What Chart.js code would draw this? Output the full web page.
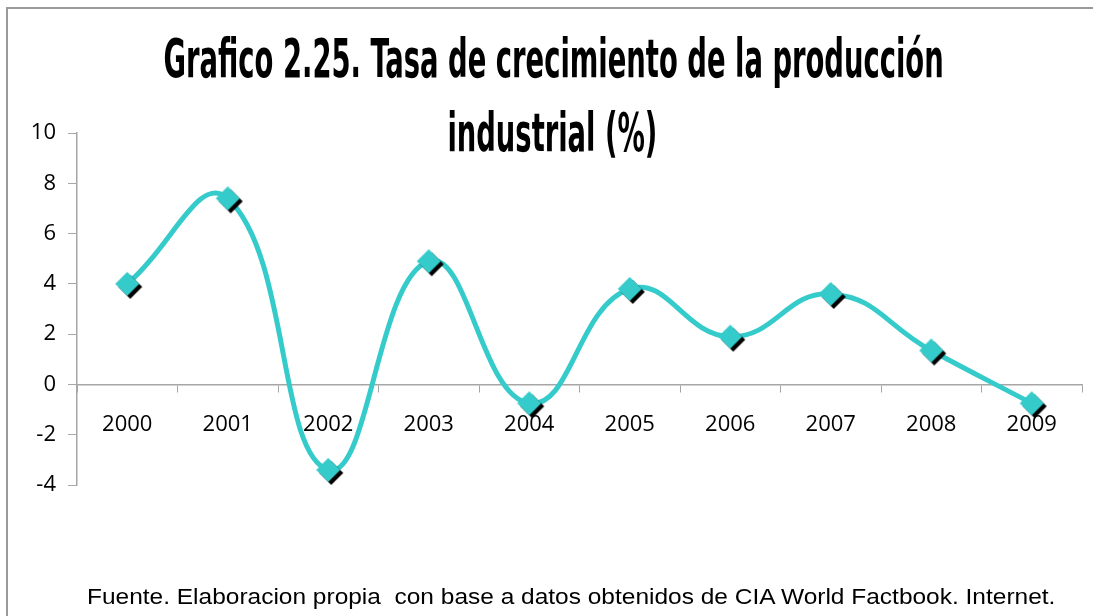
<!DOCTYPE html>
<html>
<head>
<meta charset="utf-8">
<script src="https://cdn.jsdelivr.net/npm/chart.js@4.4.1/dist/chart.umd.min.js"></script>
<style>
  html, body { margin: 0; padding: 0; background: #fff; }
  #wrap { position: relative; width: 1093px; height: 616px; overflow: hidden; }
  #frame { position: absolute; left: 6px; top: 7px; width: 1200px; height: 700px;
           border-top: 2px solid #9a9a9a; border-left: 2px solid #9a9a9a; }
  canvas { position: absolute; left: 0; top: 0; }
  .txt { position: absolute; white-space: pre; color: #000; transform-origin: 50% 50%; }
  .title { font-family: "Liberation Sans Narrow", "DejaVu Sans Condensed", sans-serif;
           font-weight: bold; font-size: 54px; line-height: 54px; }
  .note { font-family: "Liberation Sans", Arial, sans-serif; font-size: 22px; line-height: 22px; }
</style>
</head>
<body>
<div id="wrap">
  <div id="frame"></div>
  <canvas id="industryChart" width="1093" height="616"></canvas>
  <div class="txt title" id="title1" data-cx="553" data-top="32" data-w="780">Grafico 2.25. Tasa de crecimiento de la producción</div>
  <div class="txt title" id="title2" data-cx="552" data-top="106" data-w="210">industrial (%)</div>
  <div class="txt note" id="note" data-cx="571" data-top="586" data-w="968">Fuente. Elaboracion propia  con base a datos obtenidos de CIA World Factbook. Internet.</div>
</div>
<script>
// ---------- data ----------
const years = ["2000", "2001", "2002", "2003", "2004", "2005", "2006", "2007", "2008", "2009"];
const growthRate = [4.0, 7.4, -3.4, 4.9, -0.75, 3.8, 1.9, 3.6, 1.35, -0.75];
const yTicks = [-4, -2, 0, 2, 4, 6, 8, 10];

const lineColor = "#35cbcb";
const axisColor = "#a6a6a6";

// diamond marker with a black drop edge, drawn once onto a small canvas
function diamondMarker(r, shift) {
  const size = Math.ceil((r + shift) * 2) + 2;
  const c = document.createElement("canvas");
  c.width = size;
  c.height = size;
  const g = c.getContext("2d");
  const m = size / 2;
  const diamond = (cx, cy, color) => {
    g.beginPath();
    g.moveTo(cx, cy - r);
    g.lineTo(cx + r, cy);
    g.lineTo(cx, cy + r);
    g.lineTo(cx - r, cy);
    g.closePath();
    g.fillStyle = color;
    g.fill();
  };
  diamond(m + shift, m + shift, "#000");
  diamond(m, m, lineColor);
  return c;
}

// squeeze the condensed texts so they span the same width as in the picture
function placeTexts() {
  document.querySelectorAll(".txt").forEach((el) => {
    const w = el.offsetWidth;
    const target = +el.dataset.w;
    el.style.left = (+el.dataset.cx - w / 2) + "px";
    el.style.top = el.dataset.top + "px";
    el.style.transform = `scaleX(${target / w})`;
  });
}

Chart.defaults.font.family = '"Open Sans", "Liberation Sans", sans-serif';
Chart.defaults.font.size = 22;
Chart.defaults.color = "#000";

const ctx = document.getElementById("industryChart");
new Chart(ctx, {
  type: "line",
  data: {
    labels: years,
    datasets: [{
      data: growthRate,
      borderColor: lineColor,
      borderWidth: 5,
      tension: 0.45,
      pointStyle: diamondMarker(12, 3),
      pointRadius: 13,
      pointHoverRadius: 13,
      clip: false
    }]
  },
  options: {
    responsive: false,
    animation: false,
    layout: { autoPadding: false, padding: { top: 133, right: 11, bottom: 131, left: 0 } },
    plugins: { legend: { display: false }, tooltip: { enabled: false } },
    scales: {
      x: {
        position: { y: 0 },
        offset: true,
        grid: { offset: true, drawOnChartArea: false, color: axisColor, tickLength: 7 },
        border: { color: axisColor, width: 1.5 },
        ticks: { padding: 20, maxRotation: 0 }
      },
      y: {
        min: -4,
        max: 10,
        afterFit: (axis) => { axis.width = 77; },
        afterBuildTicks: (axis) => { axis.ticks = yTicks.map((v) => ({ value: v })); },
        grid: { drawOnChartArea: false, color: axisColor, tickLength: 9 },
        border: { color: axisColor, width: 1.5 },
        ticks: { padding: 12 }
      }
    }
  }
});

placeTexts();
</script>
</body>
</html>
